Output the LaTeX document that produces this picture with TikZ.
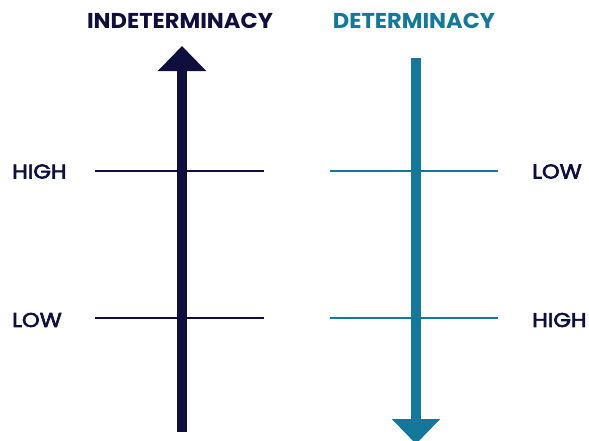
\documentclass[tikz,border=0pt]{standalone}
\usepackage{fontspec}
\setmainfont{Poppins}
\newfontfamily\headfont{Poppins}[FakeStretch=1.05]
\newfontfamily\labelfont{Poppins}[FakeStretch=1.13, FakeBold=3]
\usetikzlibrary{arrows.meta}
\definecolor{navy}{HTML}{0F0F3F}
\definecolor{teal}{HTML}{14789A}
\begin{document}
\begin{tikzpicture}[x=1pt,y=-1pt,
  title/.style={font=\headfont\bfseries\fontsize{21.5}{24}\selectfont, inner sep=0pt},
  level/.style={font=\labelfont\fontsize{20}{23}\selectfont, inner sep=0pt},
  scale line/.style={line width=1.8pt},
  axis/.style={line width=10.5pt, -{Triangle[width=47pt,length=25pt]}}]
\useasboundingbox (0,0) rectangle (589,440);
\clip (0,0) rectangle (589,440);
% headings
\node[title, text=navy] (tl) at (180,21) {INDETERMINACY};
\node[title, text=teal] (tr) at (414,21) {DETERMINACY};
% axes
\coordinate (ls) at (182,432);
\coordinate (le) at (182,46);
\coordinate (rs) at (416,58);
\coordinate (re) at (416,444);
\draw[axis, draw=navy, fill=navy] (ls) -- (le);
\draw[axis, draw=teal, fill=teal] (rs) -- (re);
% tick lines
\coordinate (l1a) at (95,171); \coordinate (l1b) at (264,171);
\coordinate (l2a) at (95,318); \coordinate (l2b) at (264,318);
\coordinate (r1a) at (330,171); \coordinate (r1b) at (498,171);
\coordinate (r2a) at (330,318); \coordinate (r2b) at (498,318);
\draw[scale line, navy] (l1a) -- (l1b);
\draw[scale line, navy] (l2a) -- (l2b);
\draw[scale line, teal] (r1a) -- (r1b);
\draw[scale line, teal] (r2a) -- (r2b);
% level labels
\node[level, text=navy, anchor=west] (lh) at (12,171.5) {HIGH};
\node[level, text=navy, anchor=west] (ll) at (12,320) {LOW};
\node[level, text=navy, anchor=west] (rl) at (532,171.5) {LOW};
\node[level, text=navy, anchor=west] (rh) at (532,320) {HIGH};
\end{tikzpicture}
\end{document}
